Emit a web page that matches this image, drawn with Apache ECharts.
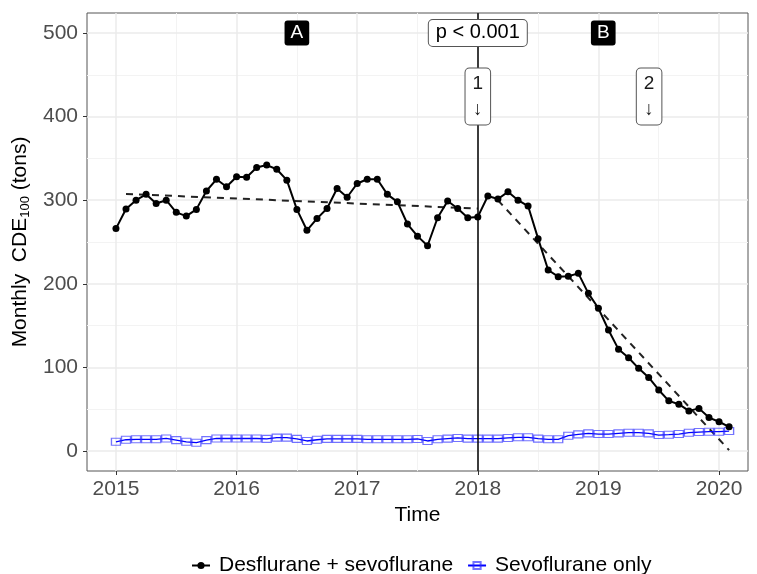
<!DOCTYPE html>
<html>
<head>
<meta charset="utf-8">
<script src="https://cdn.jsdelivr.net/npm/echarts@6/dist/echarts.min.js"></script>
<style>
  html, body { margin: 0; padding: 0; background: #ffffff; }
  #chart { width: 757px; height: 574px; }
</style>
</head>
<body>
<div id="chart"></div>
<script>
// Monthly observations, January 2015 to February 2020 (decimal years)
const months = Array.from({ length: 62 }, (_, i) => 2015 + i / 12);

// Monthly CDE100 (tons), desflurane + sevoflurane combined
const desSevo = [
  266, 289.5, 300, 307, 296, 300, 285.5, 281, 289, 311, 325, 316,
  328, 327.5, 339, 342, 337, 324, 289, 264, 278, 290, 314, 303.5,
  320, 325, 325, 307, 298, 271.5, 257, 245.5, 279, 299, 290, 279,
  280, 305, 301.5, 310, 300, 293, 254, 216.5, 208.5, 209, 212.5, 188.6,
  170.7, 144.7, 121.6, 111.6, 98.9, 88, 73, 60, 56, 48, 51, 40,
  35, 29
];

// Monthly CDE100 (tons), sevoflurane only
const sevoOnly = [
  11, 13.5, 14, 14, 14, 15, 13, 11, 10, 13, 15, 15,
  15, 15, 15, 14.5, 16, 16, 14.5, 12, 13.5, 14.5, 14.5, 14.5,
  14.5, 14, 14, 14, 14, 14, 14.4, 12, 14, 14.8, 15.6, 14.8,
  14.8, 14.8, 14.8, 15.6, 16.4, 16.4, 14.8, 14, 14, 18.3, 19.9, 21.1,
  20.3, 20.3, 21.1, 21.9, 21.9, 21.1, 19.1, 19.5, 20.3, 21.9, 22.7, 23.1,
  23.1, 23.9
];

// Segmented regression fits (start / end of each segment)
const trendBefore = [[2015 + 1 / 12, 307.5], [2018, 290]];
const trendAfter = [[2018 + 2 / 12, 300], [2020 + 1 / 12, 1]];

// Intervention date
const interventionYear = 2018;

// Axis ticks and grid lines
const xTicks = [2015, 2016, 2017, 2018, 2019, 2020];
const xMinor = [2015.5, 2016.5, 2017.5, 2018.5, 2019.5];
const yTicks = [0, 100, 200, 300, 400, 500];
const yMinor = [50, 150, 250, 350, 450];

// Annotations
const phaseLabels = [
  { text: 'A', x: 2016.5, y: 500 },
  { text: 'B', x: 2019.04, y: 500 }
];
const testLabel = { text: 'p < 0.001', x: 2018, y: 500 };
const eventLabels = [
  { text: '1\n\u2193', x: 2018, y: 424 },
  { text: '2\n\u2193', x: 2019.42, y: 424 }
];

const FONT = '"Liberation Sans", Arial, sans-serif';
const chart = echarts.init(document.getElementById('chart'), null, { renderer: 'canvas' });

const majorGrid = { color: '#EBEBEB', width: 1.5, type: 'solid' };
const minorGrid = { color: '#F3F3F3', width: 1, type: 'solid' };

const gridLineData = [
  ...xMinor.map(v => ({ xAxis: v, lineStyle: minorGrid })),
  ...yMinor.map(v => ({ yAxis: v, lineStyle: minorGrid })),
  ...xTicks.map(v => ({ xAxis: v, lineStyle: majorGrid })),
  ...yTicks.map(v => ({ yAxis: v, lineStyle: majorGrid }))
];

const annotationData = [
  ...phaseLabels.map(p => ({
    value: [p.x, p.y], name: p.text,
    label: {
      backgroundColor: '#000000', color: '#ffffff', fontSize: 19,
      padding: [3, 6, 3, 6], borderRadius: 3
    }
  })),
  {
    value: [testLabel.x, testLabel.y], name: testLabel.text,
    label: {
      backgroundColor: '#ffffff', color: '#000000', fontSize: 20,
      borderColor: '#555555', borderWidth: 1, borderRadius: 4,
      padding: [3, 7, 3, 7]
    }
  },
  ...eventLabels.map(p => ({
    value: [p.x, p.y], name: p.text,
    label: {
      backgroundColor: '#ffffff', color: '#1a1a1a', fontSize: 19, lineHeight: 26,
      borderColor: '#555555', borderWidth: 1, borderRadius: 4,
      padding: [2, 7, 2, 7], align: 'center'
    }
  }))
];

const option = {
  animation: false,
  backgroundColor: '#ffffff',
  textStyle: { fontFamily: FONT },
  grid: {
    left: 87, right: 9, top: 13, bottom: 103,
    outerBoundsMode: 'none', containLabel: false,
    show: true, borderColor: '#555555', borderWidth: 1,
    backgroundColor: 'transparent'
  },
  xAxis: {
    type: 'value', min: 2014.76, max: 2020.24,
    name: 'Time', nameLocation: 'middle', nameGap: 33,
    nameTextStyle: { fontSize: 21, color: '#000000', fontFamily: FONT },
    axisLine: { show: false, onZero: false },
    splitLine: { show: false },
    axisTick: { show: true, customValues: xTicks, length: 4, lineStyle: { color: '#333333', width: 1 } },
    axisLabel: {
      customValues: xTicks, fontSize: 21, color: '#4D4D4D', margin: 8, fontFamily: FONT,
      formatter: v => String(v)
    }
  },
  yAxis: {
    type: 'value', min: -23.9, max: 523.9,
    name: '{t|Monthly  CDE}{s|100}{t| (tons)}',
    nameLocation: 'middle', nameGap: 52, nameRotate: 90,
    nameTextStyle: {
      rich: {
        t: { fontSize: 21, color: '#000000', fontFamily: FONT, lineHeight: 24, verticalAlign: 'middle' },
        s: { fontSize: 13, color: '#000000', fontFamily: FONT, lineHeight: 12, verticalAlign: 'bottom' }
      }
    },
    axisLine: { show: false, onZero: false },
    splitLine: { show: false },
    axisTick: { show: true, customValues: yTicks, length: 4, lineStyle: { color: '#333333', width: 1 } },
    axisLabel: {
      customValues: yTicks, fontSize: 21, color: '#4D4D4D', margin: 9, fontFamily: FONT,
      formatter: v => String(v)
    }
  },
  legend: {
    data: [
      { name: 'Desflurane + sevoflurane' },
      { name: 'Sevoflurane only' }
    ],
    left: 186, top: 550,
    itemWidth: 18, itemHeight: 9, itemGap: 14,
    textStyle: { fontSize: 21, color: '#000000', fontFamily: FONT, padding: [0, 0, 0, 4] }
  },
  series: [
    {
      name: 'grid',
      type: 'line', data: [], silent: true, z: 0,
      markLine: {
        silent: true, z: 0, symbol: ['none', 'none'],
        label: { show: false }, emphasis: { disabled: true },
        data: gridLineData
      }
    },
    {
      name: 'intervention',
      type: 'line', data: [], silent: true, z: 5,
      markLine: {
        silent: true, z: 5, symbol: ['none', 'none'],
        label: { show: false }, emphasis: { disabled: true },
        lineStyle: { color: '#000000', width: 1.5, type: 'solid' },
        data: [{ xAxis: interventionYear }]
      }
    },
    {
      name: 'trendBefore', type: 'line', data: trendBefore, z: 3,
      showSymbol: false, symbol: 'none', silent: true,
      lineStyle: { color: '#222222', width: 2, type: [7, 6] }
    },
    {
      name: 'trendAfter', type: 'line', data: trendAfter, z: 3,
      showSymbol: false, symbol: 'none', silent: true,
      lineStyle: { color: '#222222', width: 2, type: [7, 6] }
    },
    {
      name: 'Sevoflurane only', type: 'line', z: 4,
      data: months.map((m, i) => [m, sevoOnly[i]]),
      symbol: 'rect', symbolSize: [9, 7],
      color: '#0000FF',
      lineStyle: { color: '#0000FF', width: 1.3 },
      itemStyle: { color: 'rgba(0,0,255,0)', borderColor: 'rgba(40,40,255,0.65)', borderWidth: 1.2 }
    },
    {
      name: 'Desflurane + sevoflurane', type: 'line', z: 6,
      data: months.map((m, i) => [m, desSevo[i]]),
      symbol: 'circle', symbolSize: 7,
      color: '#000000',
      lineStyle: { color: '#000000', width: 2 },
      itemStyle: { color: '#000000' }
    },
    {
      name: 'annotations', type: 'scatter', z: 8, silent: true,
      symbolSize: 0,
      itemStyle: { opacity: 1 },
      label: {
        show: true, position: 'inside', fontFamily: FONT,
        formatter: p => p.name
      },
      data: annotationData
    }
  ]
};

chart.setOption(option);
</script>
</body>
</html>
